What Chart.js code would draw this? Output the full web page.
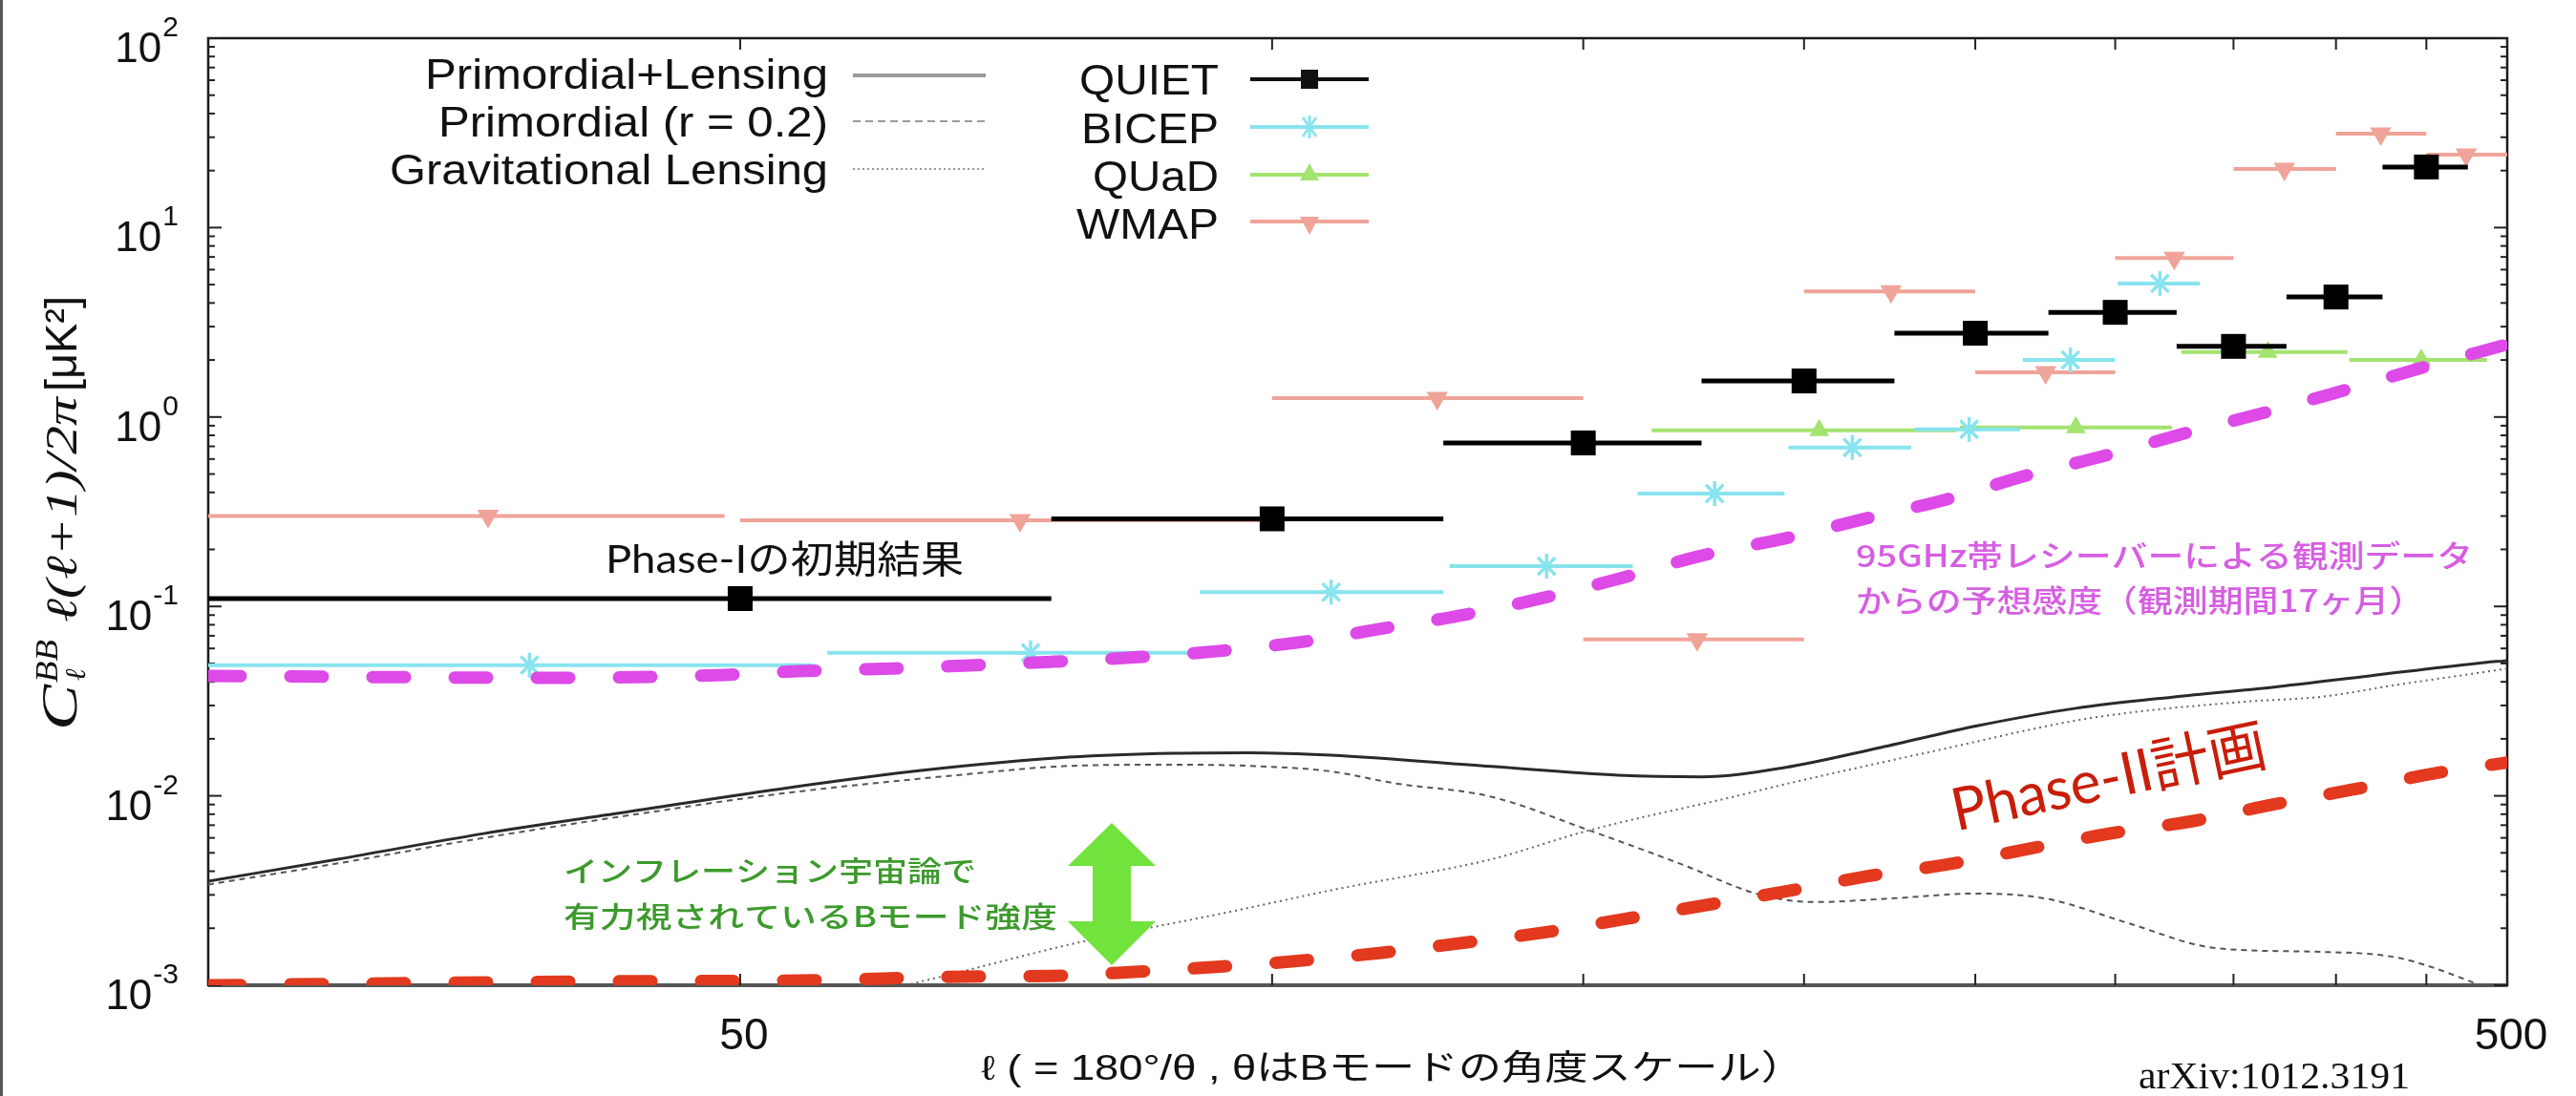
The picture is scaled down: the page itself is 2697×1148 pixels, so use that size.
<!DOCTYPE html>
<html>
<head>
<meta charset="utf-8">
<script src="https://cdn.jsdelivr.net/npm/chart.js@4.4.1/dist/chart.umd.min.js"></script>
<style>
  html, body { margin: 0; padding: 0; background: #fff; overflow: hidden; }
  canvas { display: block; }
</style>
</head>
<body>
<canvas id="c" width="2697" height="1148"></canvas>
<script>
// ---- QUIET band powers (multipole bin centre, bin edges, value in uK^2) ----
const quietL  = [50, 100, 150, 200, 250, 300, 350, 400, 450];
const quietLo = [25, 75, 125, 175, 225, 275, 325, 375, 425];
const quietHi = [75, 125, 175, 225, 275, 325, 375, 425, 475];
const quietV  = [0.11, 0.29, 0.73, 1.55, 2.77, 3.57, 2.36, 4.3, 20.9];

// ---- BICEP ----
const bicepL  = [38, 73, 108, 143, 178, 213, 248, 283, 318];
const bicepLo = [21, 56, 91, 126, 161, 196, 231, 266, 301];
const bicepHi = [55, 90, 125, 160, 195, 230, 265, 300, 335];
const bicepV  = [0.049, 0.057, 0.119, 0.163, 0.394, 0.69, 0.86, 2.0, 5.07];

// ---- QUaD ----
const quadL  = [204, 285, 366, 447];
const quadLo = [164, 245, 327, 407];
const quadHi = [244, 323, 406, 487];
const quadV  = [0.85, 0.88, 2.2, 2.0];

// ---- WMAP ----
const wmapL  = [36, 72, 124, 174, 224, 274, 324, 374, 424, 474];
const wmapLo = [2, 50, 100, 150, 200, 250, 300, 350, 400, 450];
const wmapHi = [49, 100, 150, 200, 250, 300, 350, 400, 450, 500];
const wmapV  = [0.30, 0.285, 1.26, 0.067, 4.6, 1.72, 6.9, 20.4, 31.3, 24.3];

// ---- theory spectra ----
const totalL = [25, 29.6, 35.8, 43.3, 52.4, 63.3, 76.7, 88, 97, 108, 133, 157, 175, 195, 221, 251, 285, 324, 368, 418, 480, 500];
const totalV = [0.00354, 0.00463, 0.00632, 0.00826, 0.0108, 0.0136, 0.0160, 0.0168, 0.0169, 0.0164, 0.0143, 0.01285, 0.0126, 0.0141, 0.018, 0.0235, 0.029, 0.0333, 0.0374, 0.043, 0.050, 0.0518];

const primL = [25, 29.6, 35.8, 43.3, 52.4, 66, 77, 87, 97, 108, 117, 133, 151, 170, 189, 203, 225, 250, 275, 305, 342, 392, 433, 475, 500];
const primV = [0.0034, 0.0044, 0.0060, 0.0079, 0.0102, 0.0128, 0.0144, 0.0146, 0.0144, 0.01345, 0.0117, 0.0099, 0.0066, 0.0044, 0.0030, 0.00275, 0.00288, 0.00305, 0.00285, 0.00213, 0.00157, 0.0015, 0.0014, 0.00106, 0.00085];

const lensL = [62, 66, 77, 85, 93, 109, 133, 151, 183, 195, 238, 291, 355, 392, 434, 485, 500];
const lensV = [0.001, 0.00115, 0.00165, 0.0020, 0.00236, 0.00323, 0.00462, 0.00656, 0.00996, 0.0115, 0.0174, 0.0258, 0.0314, 0.0333, 0.0387, 0.045, 0.047];

// ---- expected sensitivities ----
const phase1L = [25, 39, 49, 54, 61, 67, 75, 84, 93, 104, 116, 129, 143, 158, 174, 196, 217, 241, 267, 297, 330, 368, 406, 452, 500];
const phase1V = [0.043, 0.042, 0.0435, 0.0455, 0.047, 0.0487, 0.051, 0.054, 0.058, 0.065, 0.077, 0.091, 0.112, 0.142, 0.183, 0.231, 0.292, 0.368, 0.49, 0.63, 0.83, 1.08, 1.40, 1.87, 2.42];

const phase2L = [25, 43, 54, 67, 75, 84, 93, 103, 115, 128, 142, 158, 176, 196, 217, 242, 270, 298, 332, 368, 409, 456, 500];
const phase2V = [0.001, 0.00105, 0.00106, 0.00111, 0.00112, 0.00118, 0.00125, 0.00134, 0.00148, 0.00167, 0.00189, 0.00223, 0.00265, 0.00315, 0.00376, 0.00437, 0.00532, 0.00633, 0.00736, 0.00897, 0.0108, 0.0132, 0.0150];

// ---- axis ticks ----
const xTickValues = [50, 100, 150, 200, 250, 300, 350, 400, 450, 500];
const xTickLabels = ['50', '', '', '', '', '', '', '', '', '500'];
const yDecades = [-3, -2, -1, 0, 1, 2];

const C_BICEP = '#88e4ee';
const C_QUAD = '#a3e36f';
const C_WMAP = '#f0a398';
const C_P1 = '#dd4ae8';
const C_P2 = '#e2391f';

const pts = (xs, ys) => xs.map((x, i) => ({ x, y: ys[i] }));

function txt(ctx, s, x, y, o) {
  ctx.save();
  ctx.font = o.font;
  ctx.fillStyle = o.color || '#111';
  ctx.textBaseline = o.base || 'alphabetic';
  ctx.textAlign = o.align || 'left';
  const m = ctx.measureText(s).width;
  const sx = o.w ? o.w / m : 1;
  ctx.translate(x, y);
  ctx.scale(sx, 1);
  ctx.fillText(s, 0, 0);
  ctx.restore();
  return m * sx;
}

function line(ctx, x1, y1, x2, y2) {
  ctx.beginPath(); ctx.moveTo(x1, y1); ctx.lineTo(x2, y2); ctx.stroke();
}

function drawErrBars(chart, i) {
  const d = chart.data.datasets[i];
  if (!d.errLo) return;
  const { ctx, chartArea: a, scales: { x, y } } = chart;
  ctx.save();
  ctx.beginPath();
  ctx.rect(a.left, a.top, a.right - a.left, a.bottom - a.top);
  ctx.clip();
  ctx.strokeStyle = d.errColor;
  ctx.lineWidth = d.errWidth;
  d.data.forEach((p, k) => {
    const py = y.getPixelForValue(p.y);
    line(ctx, x.getPixelForValue(d.errLo[k]), py, x.getPixelForValue(d.errHi[k]), py);
  });
  ctx.restore();
}

function drawFrame(chart) {
  const { ctx, chartArea: a, scales: { x, y } } = chart;
  ctx.save();
  // page edge rule
  ctx.strokeStyle = '#555'; ctx.lineWidth = 3;
  line(ctx, 1.5, 0, 1.5, 1148);

  ctx.strokeStyle = '#1a1a1a'; ctx.lineWidth = 2.5;
  ctx.strokeRect(a.left, a.top, a.right - a.left, a.bottom - a.top);
  ctx.strokeStyle = '#555'; ctx.lineWidth = 4;
  line(ctx, a.left, a.bottom, a.right, a.bottom);

  // y ticks (inward, both sides)
  ctx.strokeStyle = '#222'; ctx.lineWidth = 2;
  yDecades.forEach(d => {
    const py = y.getPixelForValue(Math.pow(10, d));
    line(ctx, a.left, py, a.left + 14, py);
    line(ctx, a.right, py, a.right - 14, py);
    if (d < 2) {
      for (let k = 2; k <= 9; k++) {
        const q = y.getPixelForValue(k * Math.pow(10, d));
        line(ctx, a.left, q, a.left + 7, q);
        line(ctx, a.right, q, a.right - 7, q);
      }
    }
  });
  // x ticks (inward, top and bottom)
  xTickValues.forEach(v => {
    const px = x.getPixelForValue(v);
    line(ctx, px, a.bottom, px, a.bottom - 12);
    line(ctx, px, a.top, px, a.top + 12);
  });

  // y tick labels 10^n
  yDecades.forEach(d => {
    const py = y.getPixelForValue(Math.pow(10, d));
    const e = String(d);
    ctx.font = '30px "Liberation Sans", Arial, sans-serif';
    const ew = ctx.measureText(e).width;
    const x0 = 187 - ew;
    txt(ctx, e, x0, py - 2, { font: '30px "Liberation Sans", Arial, sans-serif', color: '#111' });
    txt(ctx, '10', x0 - 1, py + 25, { font: '44px "Liberation Sans", Arial, sans-serif', color: '#111', align: 'right' });
  });
  // x tick labels
  xTickValues.forEach((v, i) => {
    if (!xTickLabels[i]) return;
    const px = x.getPixelForValue(v);
    txt(ctx, xTickLabels[i], px + 4, 1099, { font: '46px "Liberation Sans", Arial, sans-serif', color: '#111', align: 'center' });
  });
  ctx.restore();
}

function drawTexts(chart) {
  const { ctx } = chart;
  const SANS = '"Liberation Sans", Arial, sans-serif';
  const SERIF = '"Liberation Serif", "DejaVu Serif", serif';
  const JP = '"Noto Sans CJK JP", sans-serif';

  // axis titles
  txt(ctx, 'ℓ ( = 180°/θ , θはBモードの角度スケール）', 1027, 1131,
      { font: `36px "Liberation Sans", ${JP}`, color: '#111', w: 862 });
  txt(ctx, 'arXiv:1012.3191', 2239, 1140, { font: `40px ${SERIF}`, color: '#111', w: 284 });

  ctx.save();
  ctx.translate(80, 0);
  ctx.rotate(-Math.PI / 2);
  txt(ctx, 'C', -765, 0, { font: `italic 52px ${SERIF}`, color: '#111', w: 48 });
  txt(ctx, 'BB', -715, -20, { font: `italic 34px ${SERIF}`, color: '#111', w: 45 });
  txt(ctx, 'ℓ', -713, 9, { font: `italic 30px ${SERIF}`, color: '#111' });
  txt(ctx, 'ℓ(ℓ+1)/2π', -652, 0, { font: `italic 46px ${SERIF}`, color: '#111', w: 236 });
  txt(ctx, '[μK²]', -410, 0, { font: `46px ${SANS}`, color: '#111', w: 100 });
  ctx.restore();

  // legend, theory block
  const L1 = [['Primordial+Lensing', 93, 422], ['Primordial (r = 0.2)', 143, 408], ['Gravitational Lensing', 193, 459]];
  L1.forEach(([s, b, w]) => txt(ctx, s, 867, b, { font: `44px ${SANS}`, color: '#111', align: 'right', w }));
  ctx.save();
  ctx.strokeStyle = '#9a9a9a';
  ctx.lineWidth = 4; line(ctx, 893, 79, 1032, 79);
  ctx.lineWidth = 2; ctx.setLineDash([8, 5]); line(ctx, 893, 127, 1032, 127);
  ctx.setLineDash([2, 3]); line(ctx, 893, 177, 1032, 177);
  ctx.restore();

  // legend, experiments block
  const L2 = [['QUIET', 99, 146], ['BICEP', 150, 144], ['QUaD', 200, 132], ['WMAP', 250, 149]];
  L2.forEach(([s, b, w]) => txt(ctx, s, 1276, b, { font: `44px ${SANS}`, color: '#111', align: 'right', w }));
  const mx = 1371;
  ctx.save();
  ctx.lineWidth = 4;
  ctx.strokeStyle = '#111'; line(ctx, 1309, 83, 1433, 83);
  ctx.fillStyle = '#111'; ctx.fillRect(mx - 9, 73, 18, 20);
  ctx.strokeStyle = C_BICEP; line(ctx, 1309, 133, 1433, 133);
  ctx.lineWidth = 3;
  line(ctx, mx - 7, 123, mx + 7, 143); line(ctx, mx + 7, 123, mx - 7, 143); line(ctx, mx, 121, mx, 145);
  ctx.lineWidth = 4;
  ctx.strokeStyle = C_QUAD; line(ctx, 1309, 183, 1433, 183);
  ctx.fillStyle = C_QUAD; ctx.beginPath(); ctx.moveTo(mx, 171); ctx.lineTo(mx + 10, 189); ctx.lineTo(mx - 10, 189); ctx.closePath(); ctx.fill();
  ctx.strokeStyle = C_WMAP; line(ctx, 1309, 232, 1433, 232);
  ctx.fillStyle = C_WMAP; ctx.beginPath(); ctx.moveTo(mx, 246); ctx.lineTo(mx + 10, 227); ctx.lineTo(mx - 10, 227); ctx.closePath(); ctx.fill();
  ctx.restore();

  // annotations
  txt(ctx, 'Phase-Iの初期結果', 634, 600, { font: `40px Lato, ${JP}`, color: '#111', w: 375 });
  txt(ctx, '95GHz帯レシーバーによる観測データ', 1943, 594, { font: `500 32px ${JP}`, color: '#d65ee2', w: 646 });
  txt(ctx, 'からの予想感度（観測期間17ヶ月）', 1943, 641, { font: `500 32px ${JP}`, color: '#d65ee2', w: 595 });
  txt(ctx, 'インフレーション宇宙論で', 590, 923, { font: `500 30px ${JP}`, color: '#3c9a2c', w: 432 });
  txt(ctx, '有力視されているBモード強度', 590, 971, { font: `500 30px ${JP}`, color: '#3c9a2c', w: 517 });

  // double arrow
  ctx.save();
  ctx.fillStyle = '#72e23d';
  const ax = 1164;
  ctx.beginPath();
  ctx.moveTo(ax, 862);
  ctx.lineTo(ax + 46, 907); ctx.lineTo(ax + 20, 907);
  ctx.lineTo(ax + 20, 965); ctx.lineTo(ax + 46, 965);
  ctx.lineTo(ax, 1011);
  ctx.lineTo(ax - 46, 965); ctx.lineTo(ax - 20, 965);
  ctx.lineTo(ax - 20, 907); ctx.lineTo(ax - 46, 907);
  ctx.closePath(); ctx.fill();
  ctx.restore();

  // Phase-II label, slanted along the curve
  ctx.save();
  ctx.translate(2208, 816);
  ctx.rotate(-12 * Math.PI / 180);
  ctx.font = `62px Lato, ${JP}`;
  ctx.fillStyle = '#c81e0a';
  ctx.textAlign = 'center'; ctx.textBaseline = 'middle';
  const pw = ctx.measureText('Phase-II計画').width;
  ctx.scale(335 / pw, 1);
  ctx.fillText('Phase-II計画', 0, 0);
  ctx.restore();
}

const deco = {
  id: 'deco',
  beforeDatasetsDraw(chart) { drawFrame(chart); },
  beforeDatasetDraw(chart, args) { drawErrBars(chart, args.index); },
  afterDraw(chart) { drawTexts(chart); }
};

const curve = { pointRadius: 0, fill: false, cubicInterpolationMode: 'monotone' };

new Chart(document.getElementById('c'), {
  type: 'line',
  data: {
    datasets: [
      Object.assign({ label: 'Primordial+Lensing', data: pts(totalL, totalV), borderColor: '#2a2a2a', borderWidth: 3, order: 10 }, curve),
      Object.assign({ label: 'Primordial (r = 0.2)', data: pts(primL, primV), borderColor: '#555', borderWidth: 2, borderDash: [6, 5], order: 9 }, curve),
      Object.assign({ label: 'Gravitational Lensing', data: pts(lensL, lensV), borderColor: '#666', borderWidth: 2, borderDash: [2, 4], order: 8 }, curve),
      { label: 'WMAP', data: pts(wmapL, wmapV), showLine: false, pointStyle: 'triangle', pointRotation: 180, pointRadius: 13,
        pointBackgroundColor: C_WMAP, pointBorderWidth: 0, borderColor: C_WMAP, errLo: wmapLo, errHi: wmapHi, errColor: C_WMAP, errWidth: 4, order: 7 },
      { label: 'QUaD', data: pts(quadL, quadV), showLine: false, pointStyle: 'triangle', pointRadius: 12,
        pointBackgroundColor: C_QUAD, pointBorderWidth: 0, borderColor: C_QUAD, errLo: quadLo, errHi: quadHi, errColor: C_QUAD, errWidth: 4, order: 6 },
      { label: 'BICEP', data: pts(bicepL, bicepV), showLine: false, pointStyle: 'star', pointRadius: 13,
        pointBackgroundColor: C_BICEP, pointBorderColor: C_BICEP, pointBorderWidth: 3.5, borderColor: C_BICEP, errLo: bicepLo, errHi: bicepHi, errColor: C_BICEP, errWidth: 4, order: 5 },
      { label: 'QUIET', data: pts(quietL, quietV), showLine: false, pointStyle: 'rect', pointRadius: 18.4,
        pointBackgroundColor: '#000', pointBorderWidth: 0, borderColor: '#000', errLo: quietLo, errHi: quietHi, errColor: '#000', errWidth: 5, order: 4 },
      Object.assign({ label: 'Phase-I 95GHz', data: pts(phase1L, phase1V), borderColor: C_P1, borderWidth: 13, borderDash: [34, 52], borderCapStyle: 'round', order: 2 }, curve),
      Object.assign({ label: 'Phase-II', data: pts(phase2L, phase2V), borderColor: C_P2, borderWidth: 13, borderDash: [34, 52], borderCapStyle: 'round', order: 1 }, curve)
    ]
  },
  options: {
    responsive: false,
    animation: false,
    devicePixelRatio: 1,
    events: [],
    layout: { padding: { left: 218, top: 40, right: 72, bottom: 116 } },
    plugins: { legend: { display: false }, tooltip: { enabled: false }, title: { display: false } },
    scales: {
      x: { type: 'logarithmic', min: 25, max: 500, display: false },
      y: { type: 'logarithmic', min: 0.001, max: 100, display: false }
    }
  },
  plugins: [deco]
});
</script>
</body>
</html>
